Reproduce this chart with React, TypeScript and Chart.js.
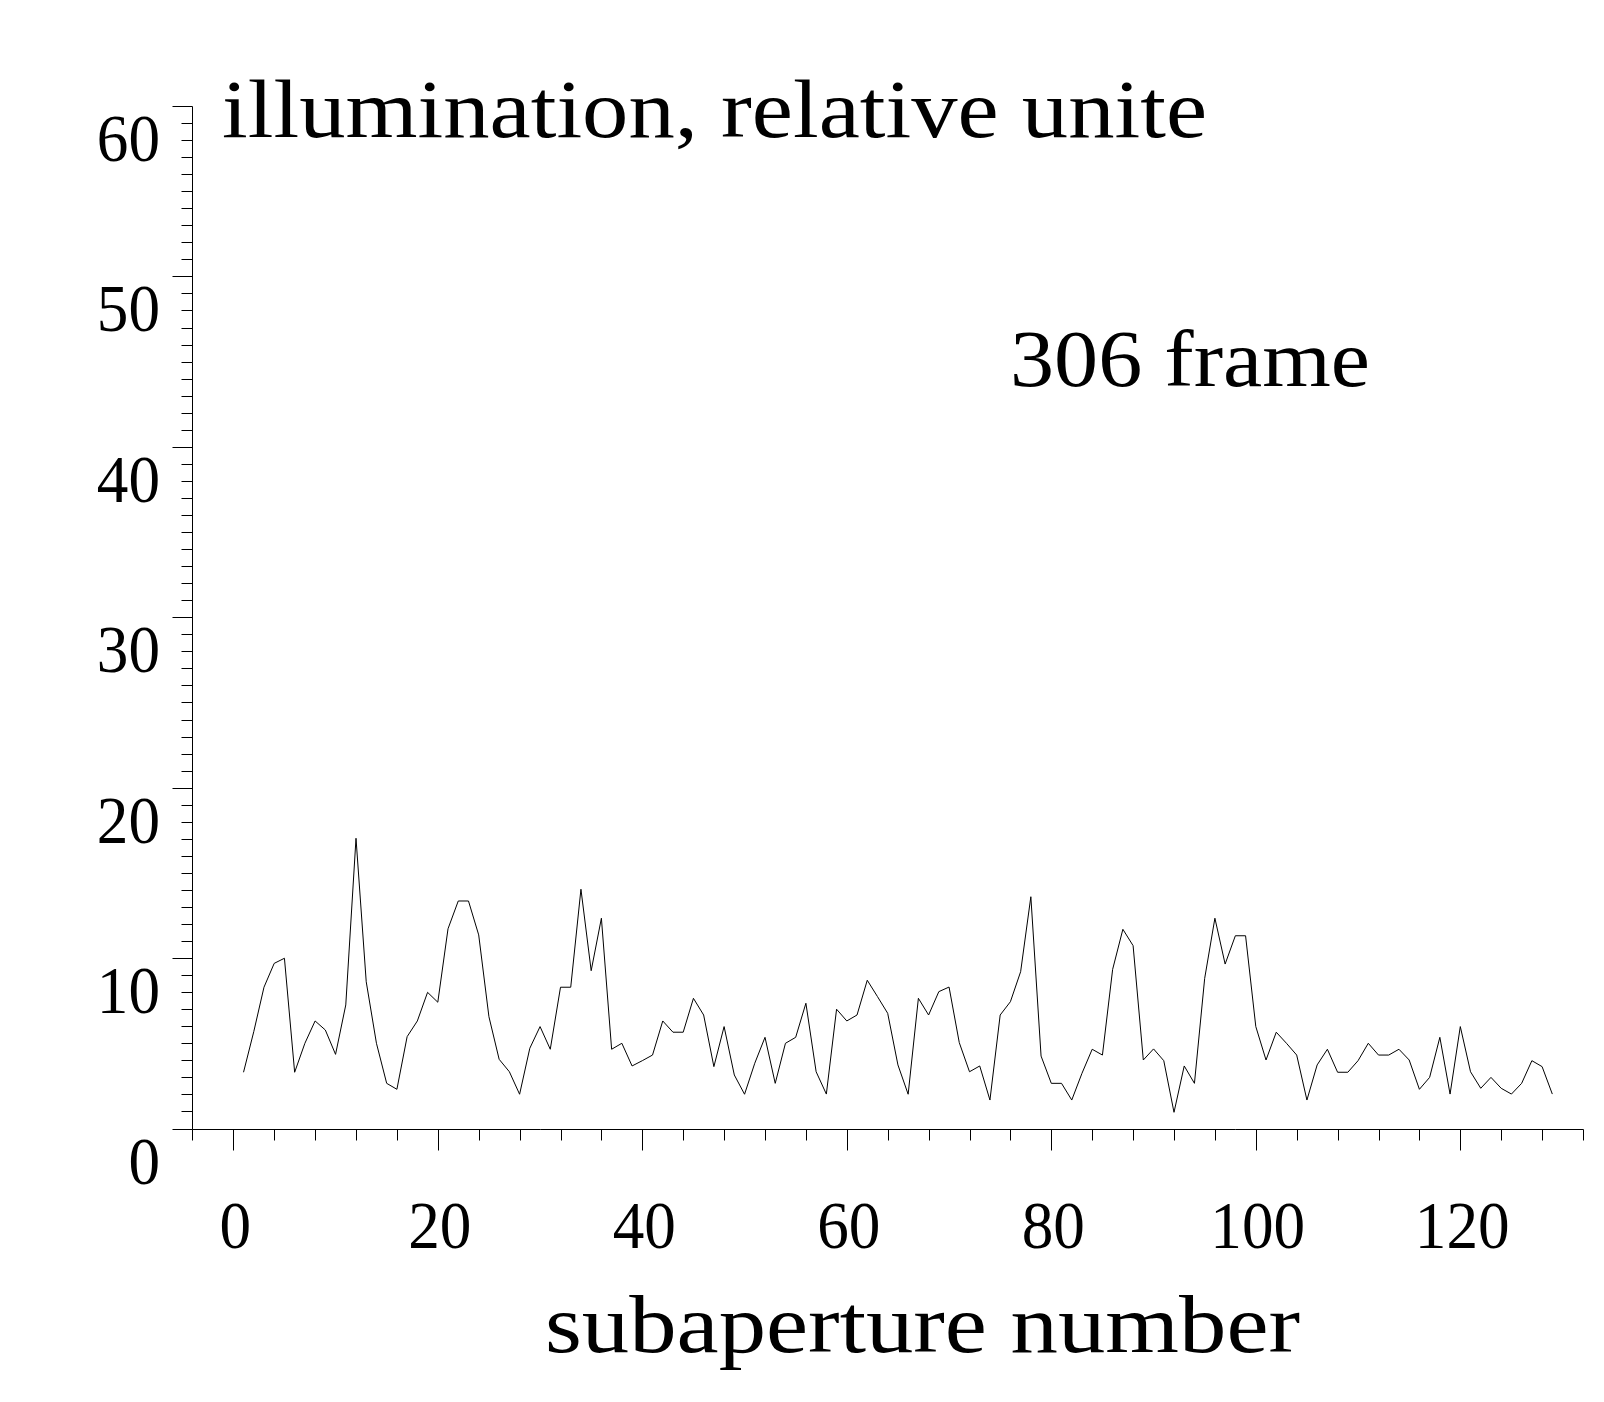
import React, { useEffect, useRef } from "react";
import { Chart, registerables } from "chart.js";

Chart.register(...registerables);

// ---- data ----
const subapertureStart = 1;
const illumination = [
  3.30, 5.68, 8.29, 9.69, 9.99, 3.30, 5.00, 6.31, 5.78, 4.35,
  7.25, 17.03, 8.61, 5.00, 2.65, 2.30, 5.39, 6.31, 7.99, 7.41,
  11.72, 13.35, 13.35, 11.36, 6.56, 4.06, 3.33, 2.01, 4.71, 5.98,
  4.65, 8.29, 8.29, 14.04, 9.26, 12.34, 4.65, 5.00, 3.67, 3.98,
  4.31, 6.31, 5.65, 5.65, 7.64, 6.66, 3.63, 5.98, 3.14, 2.01,
  3.83, 5.35, 2.65, 5.00, 5.35, 7.35, 3.33, 2.02, 7.00, 6.31,
  6.66, 8.70, 7.74, 6.76, 3.73, 2.01, 7.64, 6.66, 8.03, 8.30,
  5.04, 3.33, 3.67, 1.67, 6.66, 7.44, 9.20, 13.60, 4.25, 2.65,
  2.65, 1.67, 3.24, 4.65, 4.31, 9.34, 11.69, 10.73, 4.02, 4.67,
  3.98, 0.95, 3.67, 2.65, 8.81, 12.34, 9.65, 11.31, 11.31, 5.98,
  4.02, 5.65, 5.00, 4.31, 1.67, 3.73, 4.65, 3.30, 3.30, 3.98,
  5.00, 4.31, 4.31, 4.65, 4.02, 2.30, 3.00, 5.35, 2.02, 5.98,
  3.33, 2.36, 3.00, 2.36, 2.02, 2.65, 3.98, 3.63, 2.02,
];

const xMin = -4;
const xMax = 132;
const yMin = 0;
const yMax = 60;
const xMajorTicks = [0, 20, 40, 60, 80, 100, 120];
const xMinorStep = 4;
const yMajorTicks = [0, 10, 20, 30, 40, 50, 60];
const yMinorStep = 1;

const titleText = "illumination, relative unite";
const frameText = "306 frame";
const xAxisTitle = "subaperture number";

const SERIF = "'Liberation Serif', 'DejaVu Serif', serif";

function fitText(
  ctx: CanvasRenderingContext2D,
  text: string,
  left: number,
  right: number,
  baseline: number,
  font: string
) {
  ctx.save();
  ctx.font = font;
  ctx.textAlign = "left";
  ctx.textBaseline = "alphabetic";
  const w = ctx.measureText(text).width;
  ctx.translate(left, baseline);
  ctx.scale((right - left) / w, 1);
  ctx.fillText(text, 0, 0);
  ctx.restore();
}

function drawScaledLabel(
  ctx: CanvasRenderingContext2D,
  text: string,
  x: number,
  baseline: number,
  align: "center" | "right",
  sx: number
) {
  ctx.save();
  ctx.font = `68px ${SERIF}`;
  ctx.textBaseline = "alphabetic";
  ctx.textAlign = align;
  ctx.translate(x, baseline);
  ctx.scale(sx, 1);
  ctx.fillText(text, 0, 0);
  ctx.restore();
}

const axesPlugin = {
  id: "mapleAxes",
  afterDraw(chart: any) {
    const ctx: CanvasRenderingContext2D = chart.ctx;
    const xs = chart.scales.x;
    const ys = chart.scales.y;
    const px = (v: number) => Math.round(xs.getPixelForValue(v)) + 0.5;
    const py = (v: number) => Math.round(ys.getPixelForValue(v)) + 0.5;

    const axX = px(xMin);
    const axY = py(0);
    ctx.save();
    ctx.strokeStyle = "#000";
    ctx.lineWidth = 1;
    ctx.beginPath();
    // x axis
    ctx.moveTo(axX, axY);
    ctx.lineTo(px(xMax), axY);
    // y axis
    ctx.moveTo(axX, axY);
    ctx.lineTo(axX, py(yMax));
    // x ticks
    for (let v = xMin; v <= xMax + 1e-6; v += xMinorStep) {
      const major = xMajorTicks.includes(v);
      const len = major ? 21 : 11;
      ctx.moveTo(px(v), axY);
      ctx.lineTo(px(v), axY + len);
    }
    // y ticks
    for (let v = yMin; v <= yMax + 1e-6; v += yMinorStep) {
      const major = yMajorTicks.includes(v);
      const len = major ? 20 : 11;
      ctx.moveTo(axX, py(v));
      ctx.lineTo(axX - len, py(v));
    }
    ctx.stroke();

    ctx.fillStyle = "#000";
    // y tick labels
    for (const v of yMajorTicks) {
      drawScaledLabel(ctx, String(v), 160, ys.getPixelForValue(v) + 55, "right", 0.93);
    }
    // x tick labels
    for (const v of xMajorTicks) {
      drawScaledLabel(ctx, String(v), xs.getPixelForValue(v) + 2, 1248, "center", 0.93);
    }

    // texts
    fitText(ctx, titleText, 222, 1207, 137, `82px ${SERIF}`);
    fitText(ctx, frameText, 1010, 1370, 386, `80px ${SERIF}`);
    fitText(ctx, xAxisTitle, 545, 1300, 1352, `82px ${SERIF}`);
    ctx.restore();
  },
};

export default function App() {
  const canvasRef = useRef<HTMLCanvasElement | null>(null);

  useEffect(() => {
    const canvas = canvasRef.current;
    if (!canvas) return;
    const points = illumination.map((y, i) => ({ x: subapertureStart + i, y }));
    const chart = new Chart(canvas, {
      type: "line",
      data: {
        datasets: [
          {
            data: points,
            borderColor: "#000",
            borderWidth: 1,
            pointRadius: 0,
            tension: 0,
            fill: false,
          },
        ],
      },
      options: {
        animation: false,
        responsive: false,
        devicePixelRatio: 1,
        layout: {
          padding: { left: 192.4, right: 21, top: 106, bottom: 273.5 },
        },
        plugins: {
          legend: { display: false },
          tooltip: { enabled: false },
          title: { display: false },
        },
        scales: {
          x: { type: "linear", min: xMin, max: xMax, display: false },
          y: { type: "linear", min: yMin, max: yMax, display: false },
        },
      },
      plugins: [axesPlugin],
    });
    return () => chart.destroy();
  }, []);

  return (
    <div style={{ position: "fixed", left: 0, top: 0, width: 1604, height: 1402, background: "#fff" }}>
      <canvas ref={canvasRef} width={1604} height={1402} style={{ display: "block", width: 1604, height: 1402 }} />
    </div>
  );
}
